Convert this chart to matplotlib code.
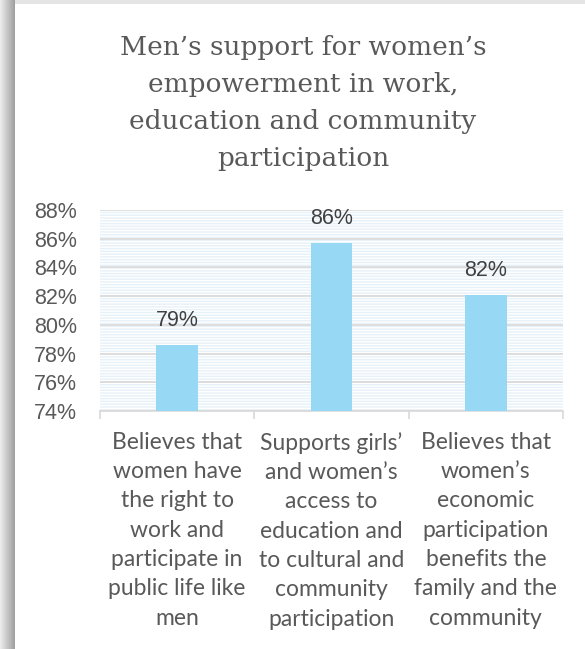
import numpy as np
import matplotlib.pyplot as plt
from matplotlib.patches import Rectangle

# data
categories = [
    "Believes that\nwomen have\nthe right to\nwork and\nparticipate in\npublic life like\nmen",
    "Supports girls\u2019\nand women\u2019s\naccess to\neducation and\nto cultural and\ncommunity\nparticipation",
    "Believes that\nwomen\u2019s\neconomic\nparticipation\nbenefits the\nfamily and the\ncommunity",
]
values = [78.6, 85.7, 82.1]
value_labels = ["79%", "86%", "82%"]
y_ticks = [74, 76, 78, 80, 82, 84, 86, 88]

title = "Men\u2019s support for women\u2019s\nempowerment in work,\neducation and community\nparticipation"

W, H = 585, 649
plt.rcParams['hatch.linewidth'] = 1.0
fig = plt.figure(figsize=(W / 100, H / 100), dpi=100)
fig.patch.set_facecolor('white')

# left shadow border and top line of the frame
bx = fig.add_axes([0, 0, 15 / W, 1])
grad = np.linspace(0.93, 0.62, 64).reshape(1, -1)
bx.imshow(grad, cmap='gray', vmin=0, vmax=1, aspect='auto', extent=[0, 1, 0, 1])
bx.set_axis_off()
fig.patches.append(Rectangle((15 / W, 1 - 4 / H), 1, 4 / H, transform=fig.transFigure,
                             facecolor='#e4e4e4', edgecolor='none', zorder=0))

ax = fig.add_axes([100 / W, 1 - 411 / H, 463 / W, 201 / H])
x = np.arange(len(categories))
ax.set_xlim(-0.5, len(categories) - 0.5)
ax.set_ylim(74, 88)

# faint striped plot background
ax.add_patch(Rectangle((0, 0), 1, 1, transform=ax.transAxes, facecolor='white',
                       edgecolor='#e7f1f9', linewidth=0, hatch='------', zorder=0))

bars = ax.bar(x, values, width=0.27, color='#97d9f5', zorder=3)
for b, lab in zip(bars, value_labels):
    ax.annotate(lab, (b.get_x() + b.get_width() / 2, b.get_height()),
                xytext=(0, 10), textcoords='offset points', ha='center', va='bottom',
                fontsize=15.5, color='#404040', family='Liberation Sans')

ax.set_yticks(y_ticks)
ax.set_yticklabels([f"{t}%" for t in y_ticks], fontsize=15.5, color='#595959',
                   family='Liberation Sans')
ax.yaxis.grid(True, color='#d9d9d9', linewidth=1.2, zorder=1)
ax.set_axisbelow(True)
ax.tick_params(axis='y', length=0, pad=16.5)

ax.set_xticks(x)
ax.set_xticklabels(categories, fontsize=16.5, color='#595959', family='Lato',
                   linespacing=1.49)
ax.set_xticks([-0.5, 0.5, 1.5, 2.5], minor=True)
ax.tick_params(axis='x', which='major', length=0, pad=15)
ax.tick_params(axis='x', which='minor', length=6, color='#d9d9d9', width=1.2)

for s in ['top', 'right', 'left']:
    ax.spines[s].set_visible(False)
ax.spines['bottom'].set_color('#d9d9d9')
ax.spines['bottom'].set_linewidth(1.2)

fig.text(303 / W, 1 - 35 / H, title, ha='center', va='top', fontsize=19,
         color='#595959', family='DejaVu Serif', linespacing=1.6)

fig.savefig('out.png', dpi=100)
